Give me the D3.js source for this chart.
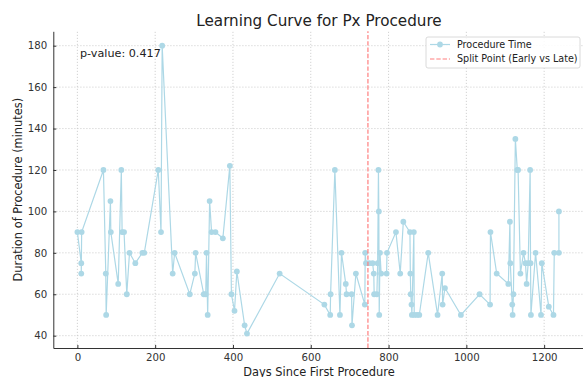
<!DOCTYPE html>
<html>
<head>
<meta charset="utf-8">
<script src="https://cdn.jsdelivr.net/npm/d3@7"></script>
<style>
  body { margin: 0; background: #fff; }
  svg { display: block; font-family: "DejaVu Sans", sans-serif; }
</style>
</head>
<body>
<div id="chart"></div>
<script>
// days since first procedure
const days = [
  0, 10, 10, 11, 67, 73, 74, 85, 86, 105, 113, 115, 120, 127, 134, 149, 167, 172,
  208, 215, 218, 245, 250, 289, 302, 304, 325, 330, 332, 335, 340, 345, 355, 374,
  392, 396, 404, 410, 430, 436, 520,
  635, 650, 651, 662, 675, 679, 690, 692, 705, 706, 716, 739, 740, 742, 750, 759,
  762, 763, 770, 772, 774, 775, 776, 778, 781, 795, 796, 819, 830, 838, 855, 856,
  857, 859, 860, 865, 866, 873, 879, 902, 926, 938, 939, 945, 986,
  1034, 1061, 1062, 1078, 1108, 1112, 1113, 1118, 1119, 1121, 1126, 1131, 1133,
  1139, 1147, 1152, 1155, 1159, 1164, 1165, 1166, 1178, 1192, 1194, 1212, 1224,
  1226, 1238, 1238
];
// procedure duration (minutes)
const durations = [
  90, 75, 70, 90, 120, 70, 50, 105, 90, 65, 120, 90, 90, 60, 80, 75, 80, 80,
  120, 90, 180, 70, 80, 60, 70, 80, 60, 60, 80, 50, 105, 90, 90, 87,
  122, 60, 52, 71, 45, 41, 70,
  55, 50, 60, 120, 50, 80, 65, 60, 60, 45, 70, 55, 80, 75, 75, 75,
  70, 60, 60, 75, 120, 100, 50, 80, 70, 70, 80, 90, 70, 95, 90, 70,
  60, 55, 50, 90, 50, 50, 50, 80, 50, 70, 55, 63, 50,
  60, 55, 90, 70, 65, 95, 75, 55, 50, 60, 135, 120, 120,
  70, 80, 75, 65, 75, 120, 75, 50, 80, 50, 75, 54, 50,
  80, 80, 100
];
const splitDay = 747;
const pValue = 0.417;
const xTicks = [0, 200, 400, 600, 800, 1000, 1200];
const yTicks = [40, 60, 80, 100, 120, 140, 160, 180];

const width = 583, height = 377;
const margin = { top: 31.3, right: 0, bottom: 29, left: 53.3 };

const points = days.map((d, i) => ({ day: d, dur: durations[i] }));

const svg = d3.select('#chart').append('svg').attr('width', width).attr('height', height);

const x = d3.scaleLinear().domain([-61.9, 1299.9]).range([margin.left, width - margin.right]);
const y = d3.scaleLinear().domain([34.05, 186.95]).range([height - margin.bottom, margin.top]);
const midX = 319;

// grid
svg.append('g')
  .selectAll('line')
  .data(xTicks)
  .enter()
  .append('line')
  .attr('x1', d => x(d)).attr('x2', d => x(d))
  .attr('y1', y.range()[0]).attr('y2', y.range()[1])
  .style('stroke', '#c8c8c8').style('stroke-width', 0.8).style('stroke-dasharray', '1.2,1.8');

svg.append('g')
  .selectAll('line')
  .data(yTicks)
  .enter()
  .append('line')
  .attr('x1', x.range()[0]).attr('x2', x.range()[1])
  .attr('y1', d => y(d)).attr('y2', d => y(d))
  .style('stroke', '#c8c8c8').style('stroke-width', 0.8).style('stroke-dasharray', '1.2,1.8');

// axes
const xAxis = svg.append('g')
  .attr('transform', `translate(0,${y.range()[0]})`)
  .call(d3.axisBottom(x).tickValues(xTicks).tickFormat(d3.format('d')).tickSizeInner(-3).tickSizeOuter(0).tickPadding(6));
const yAxis = svg.append('g')
  .attr('transform', `translate(${x.range()[0]},0)`)
  .call(d3.axisLeft(y).tickValues(yTicks).tickFormat(d3.format('d')).tickSizeInner(-3).tickSizeOuter(0).tickPadding(6));

[xAxis, yAxis].forEach(a => {
  a.select('.domain').style('stroke', '#333').style('stroke-width', 1);
  a.selectAll('.tick line').style('stroke', '#333');
  a.selectAll('.tick text').style('font-size', '10.2px').style('fill', '#333').style('font-family', '"DejaVu Sans", sans-serif');
});

// data line
const line = d3.line().x(d => x(d.day)).y(d => y(d.dur));
svg.append('path')
  .datum(points)
  .attr('d', line)
  .style('fill', 'none')
  .style('stroke', '#add8e6')
  .style('stroke-width', 1.2);

svg.append('g')
  .selectAll('circle')
  .data(points)
  .enter()
  .append('circle')
  .attr('cx', d => x(d.day))
  .attr('cy', d => y(d.dur))
  .attr('r', 2.9)
  .style('fill', '#add8e6');

// split line
svg.append('line')
  .attr('x1', x(splitDay)).attr('x2', x(splitDay))
  .attr('y1', y.range()[0]).attr('y2', y.range()[1])
  .style('stroke', '#ff7f7f').style('stroke-width', 1.2).style('stroke-dasharray', '4.4,1.9');

// texts
svg.append('text')
  .attr('x', midX).attr('y', 26)
  .attr('text-anchor', 'middle')
  .style('font-size', '15.2px').style('fill', '#222')
  .text('Learning Curve for Px Procedure');

svg.append('text')
  .attr('x', 80).attr('y', 57)
  .style('font-size', '11.2px').style('fill', '#222')
  .text(`p-value: ${pValue}`);

svg.append('text')
  .attr('x', midX).attr('y', 375.5)
  .attr('text-anchor', 'middle')
  .style('font-size', '11.4px').style('fill', '#222')
  .text('Days Since First Procedure');

svg.append('text')
  .attr('transform', `translate(22,${(y.range()[0] + y.range()[1]) / 2}) rotate(-90)`)
  .attr('text-anchor', 'middle')
  .style('font-size', '11.4px').style('fill', '#222')
  .text('Duration of Procedure (minutes)');

// legend
const lg = svg.append('g').attr('transform', 'translate(426,37)');
lg.append('rect')
  .attr('width', 154).attr('height', 31).attr('rx', 2)
  .style('fill', 'white').style('fill-opacity', 0.85)
  .style('stroke', '#d0d0d0').style('stroke-width', 0.8);
lg.append('line').attr('x1', 4).attr('x2', 24).attr('y1', 7.5).attr('y2', 7.5)
  .style('stroke', '#add8e6').style('stroke-width', 1.2);
lg.append('circle').attr('cx', 14).attr('cy', 7.5).attr('r', 2.9).style('fill', '#add8e6');
lg.append('line').attr('x1', 4).attr('x2', 24).attr('y1', 22).attr('y2', 22)
  .style('stroke', '#ff7f7f').style('stroke-width', 1.2).style('stroke-dasharray', '4.4,1.9');
lg.append('text').attr('x', 31).attr('y', 7.5).attr('dy', '0.35em')
  .style('font-size', '9.6px').style('fill', '#222').text('Procedure Time');
lg.append('text').attr('x', 31).attr('y', 22).attr('dy', '0.35em')
  .style('font-size', '9.6px').style('fill', '#222').text('Split Point (Early vs Late)');
</script>
</body>
</html>
